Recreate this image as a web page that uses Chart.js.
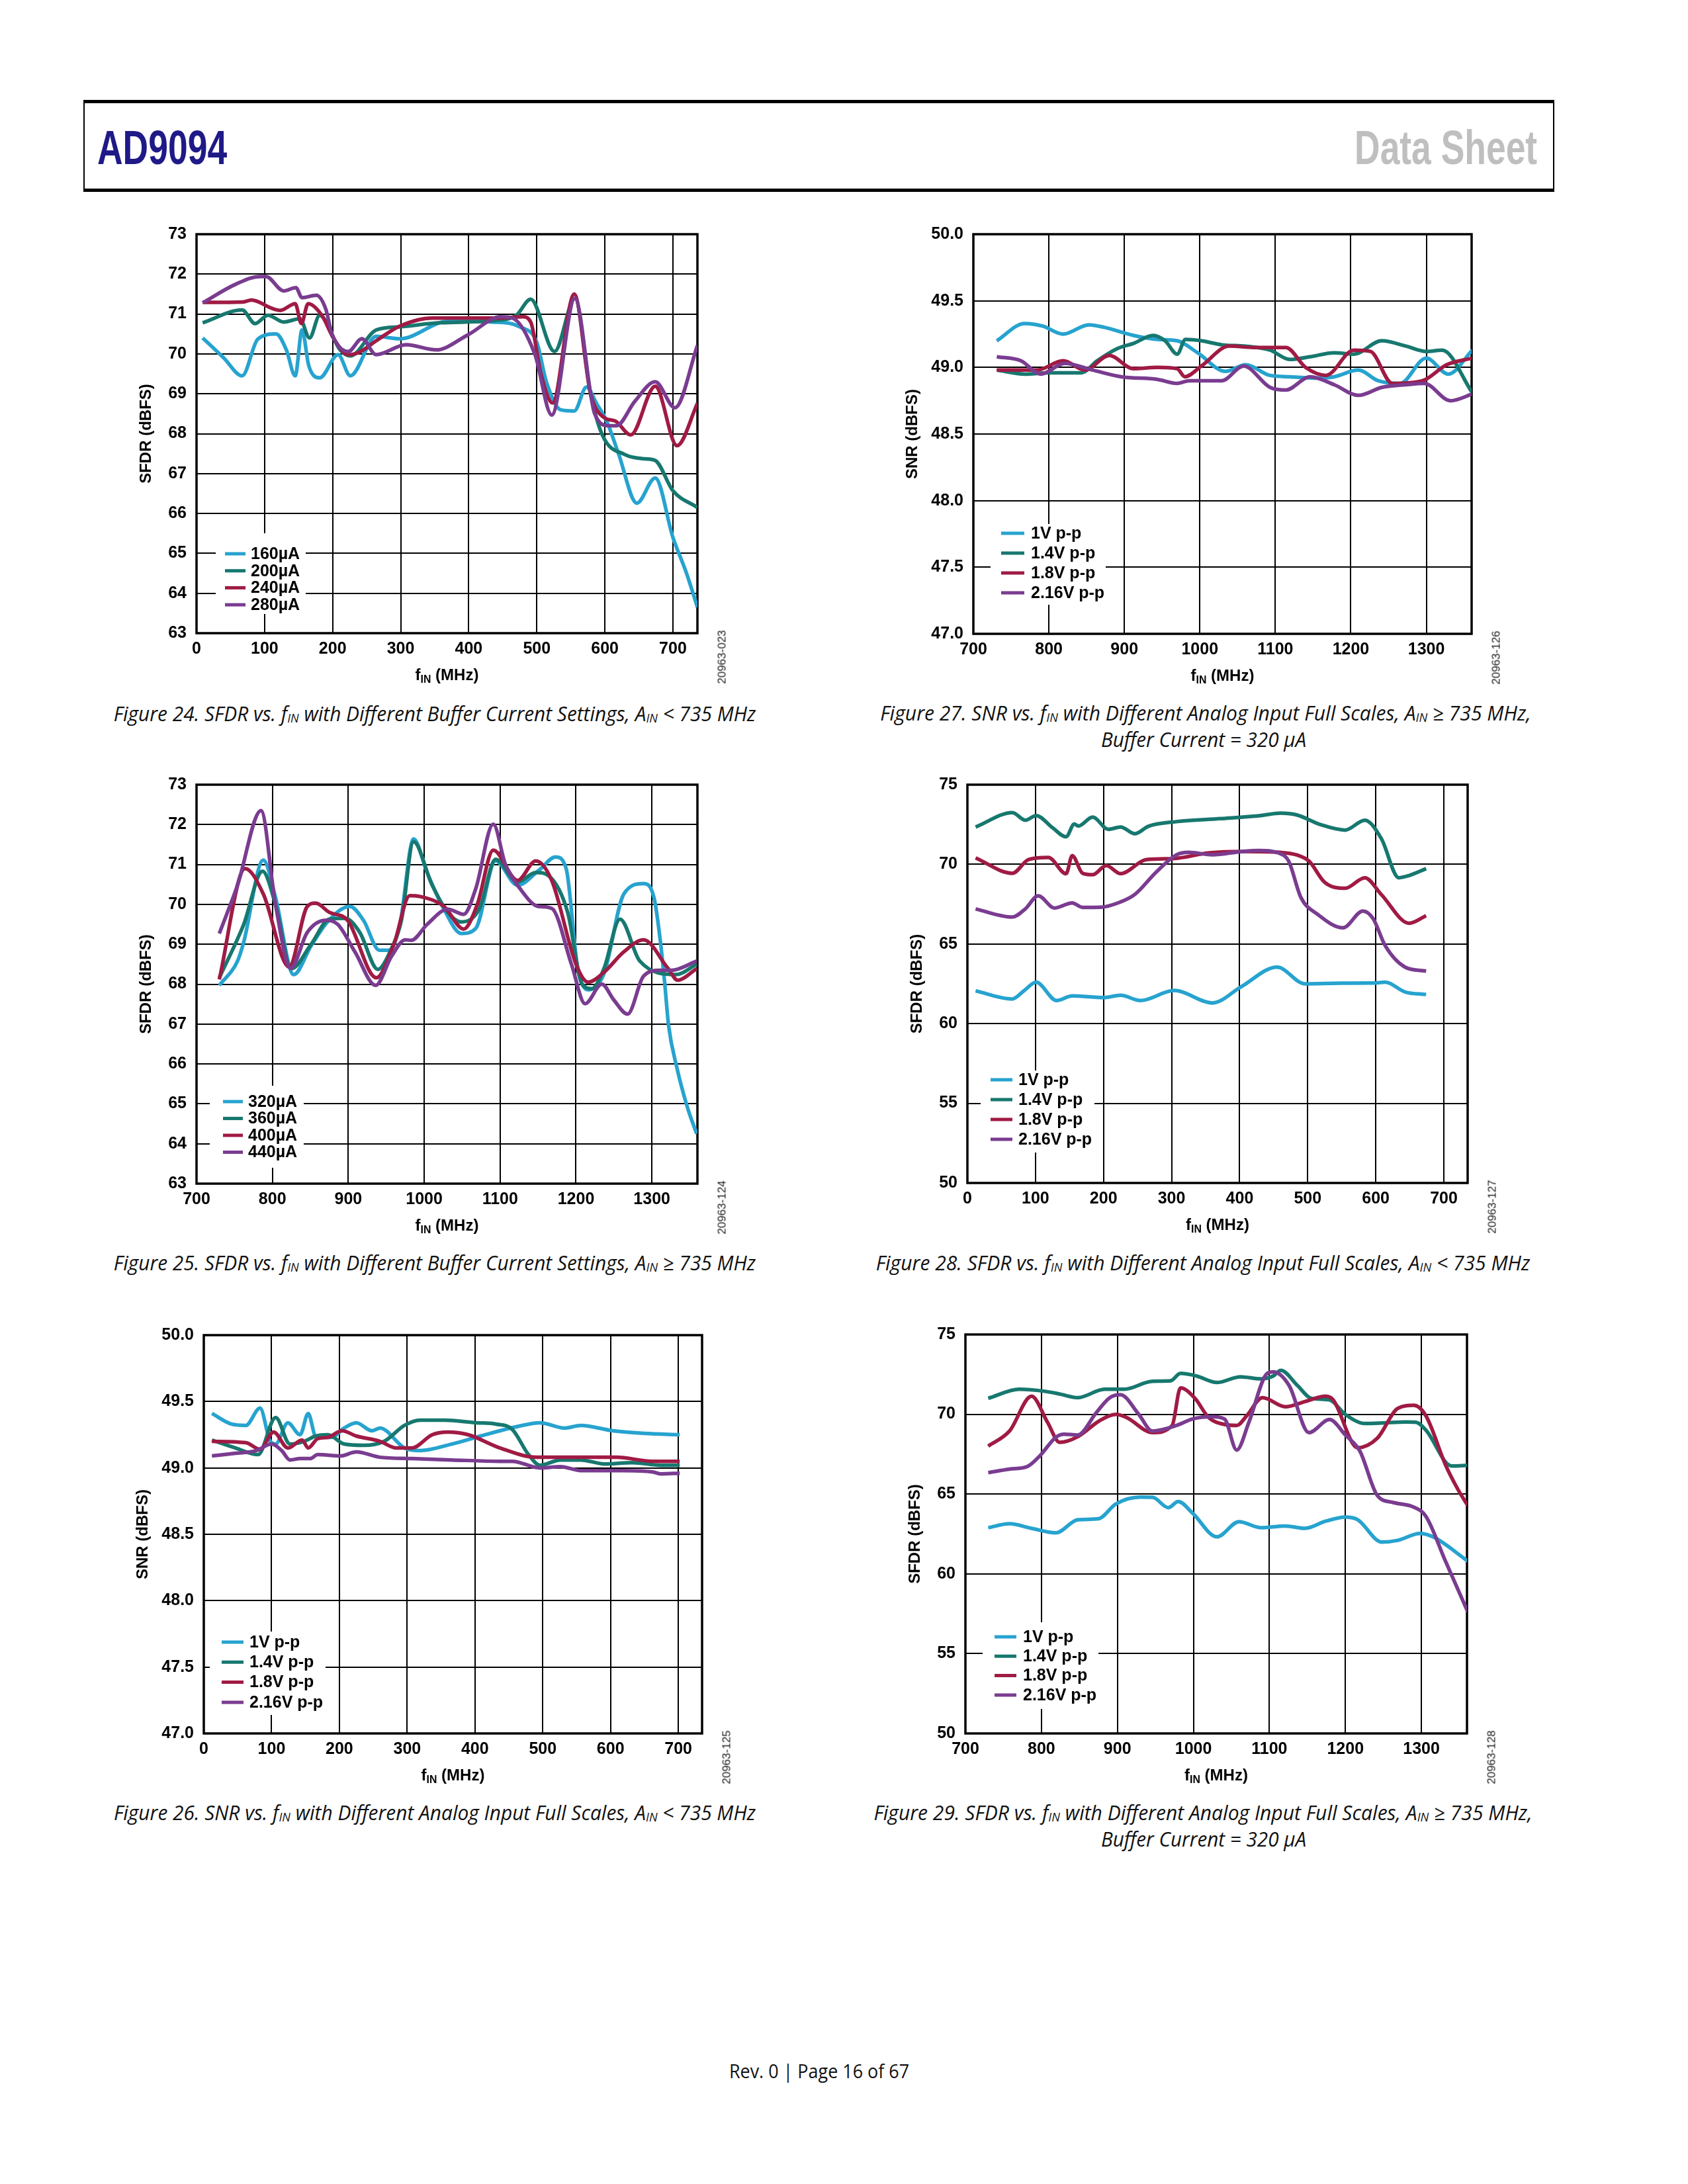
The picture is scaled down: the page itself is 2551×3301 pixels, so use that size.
<!DOCTYPE html>
<html><head><meta charset="utf-8">
<script src="https://cdn.jsdelivr.net/npm/chart.js@4.4.1/dist/chart.umd.min.js"></script>
<style>
html,body{margin:0;padding:0;background:#fff;}
body{width:2551px;height:3301px;position:relative;overflow:hidden;}
.hdr{position:absolute;left:126px;top:151px;width:2219px;height:129px;border-top:5px solid #000;border-bottom:5px solid #000;border-left:2px solid #000;border-right:2px solid #000;}
.htxt{position:absolute;font-family:"Liberation Sans Narrow","Liberation Sans",Arial,sans-serif;font-weight:bold;font-size:72px;line-height:1;white-space:nowrap;}
.cap{position:absolute;font-family:"Open Sans","Liberation Sans",sans-serif;font-style:italic;font-size:31px;line-height:1;white-space:nowrap;color:#111;}
.foot{position:absolute;font-family:"Open Sans","Liberation Sans",sans-serif;font-size:29px;line-height:1;white-space:nowrap;color:#111;}
.xt{position:absolute;font-family:"Liberation Sans",Arial,sans-serif;font-weight:bold;font-size:24px;line-height:1;white-space:nowrap;color:#000;transform:translate(-50%,-50%);}
.fid{position:absolute;font-family:"Liberation Sans",Arial,sans-serif;font-size:17px;line-height:1;white-space:nowrap;color:#222;transform:translate(-50%,-50%) rotate(-90deg);}
sub{font-size:0.66em;vertical-align:-0.28em;line-height:0;}
.cap sub{font-size:0.6em;vertical-align:-0.15em;}
</style></head><body>
<div class="hdr"></div>
<script>
// ================= DATA =================
const seriesColors = ['#27a3cf', '#17786f', '#a01b44', '#7a3c90'];
const bufferLabelsLow = ['160\u00b5A', '200\u00b5A', '240\u00b5A', '280\u00b5A'];
const bufferLabelsHigh = ['320\u00b5A', '360\u00b5A', '400\u00b5A', '440\u00b5A'];
const fullScaleLabels = ['1V p-p', '1.4V p-p', '1.8V p-p', '2.16V p-p'];

const xTicksLow = [0, 100, 200, 300, 400, 500, 600, 700];
const xTickLabelsLow = ['0', '100', '200', '300', '400', '500', '600', '700'];
const xTicksHigh = [700, 800, 900, 1000, 1100, 1200, 1300];
const xTickLabelsHigh = ['700', '800', '900', '1000', '1100', '1200', '1300'];
const yTicksSFDR1 = [63, 64, 65, 66, 67, 68, 69, 70, 71, 72, 73];
const yTickLabelsSFDR1 = ['63', '64', '65', '66', '67', '68', '69', '70', '71', '72', '73'];
const yTicksSNR = [47.0, 47.5, 48.0, 48.5, 49.0, 49.5, 50.0];
const yTickLabelsSNR = ['47.0', '47.5', '48.0', '48.5', '49.0', '49.5', '50.0'];
const yTicksSFDR5 = [50, 55, 60, 65, 70, 75];
const yTickLabelsSFDR5 = ['50', '55', '60', '65', '70', '75'];

// ---- Figure 24: SFDR vs fIN, buffer current, AIN < 735 MHz ----
const f24_160_f = [9, 40, 67, 90, 117, 132, 145, 155, 165, 181, 208, 226, 264, 299, 370, 435, 476, 500, 514, 535, 555, 573, 588, 603, 620, 647, 674, 700, 720, 736];
const f24_160_v = [70.4, 69.9, 69.45, 70.37, 70.5, 70.1, 69.45, 70.6, 69.7, 69.4, 69.98, 69.45, 70.44, 70.38, 70.82, 70.8, 70.67, 70.29, 69.3, 68.6, 68.57, 69.17, 68.75, 68.3, 67.5, 66.26, 66.89, 65.4, 64.5, 63.65];
const f24_200_f = [9, 67, 86, 105, 128, 152, 166, 181, 211, 226, 264, 299, 358, 447, 470, 491, 526, 556, 579, 597, 629, 659, 674, 700, 736];
const f24_200_v = [70.78, 71.1, 70.76, 70.97, 70.8, 70.88, 70.4, 70.97, 70.1, 69.95, 70.6, 70.68, 70.78, 70.85, 70.97, 71.37, 70.06, 71.39, 69.0, 67.94, 67.48, 67.37, 67.33, 66.57, 66.15];
const f24_240_f = [9, 67, 81, 111, 123, 145, 154, 164, 184, 202, 223, 240, 264, 299, 346, 447, 479, 491, 506, 523, 555, 579, 600, 615, 638, 674, 706, 736];
const f24_240_v = [71.29, 71.3, 71.35, 71.14, 71.09, 71.26, 70.76, 71.26, 70.97, 70.37, 69.98, 70.05, 70.33, 70.7, 70.9, 70.9, 70.93, 70.8, 69.5, 68.77, 71.5, 69.0, 68.39, 68.32, 67.97, 69.19, 67.7, 68.76];
const f24_280_f = [9, 58, 93, 102, 128, 146, 155, 176, 190, 199, 223, 243, 264, 308, 352, 399, 447, 464, 497, 522, 556, 585, 606, 617, 644, 674, 703, 736];
const f24_280_v = [71.28, 71.75, 71.94, 71.94, 71.58, 71.66, 71.41, 71.47, 71.12, 70.5, 70.06, 70.38, 69.98, 70.23, 70.1, 70.48, 70.93, 70.9, 70.0, 68.47, 71.39, 68.5, 68.2, 68.2, 68.81, 69.3, 68.65, 70.21];

// ---- Figure 27: SNR vs fIN, full scales, AIN >= 735 MHz ----
const f27_10_f = [731, 768, 792, 819, 853, 874, 912, 944, 970, 997, 1034, 1061, 1093, 1119, 1151, 1178, 1210, 1236, 1265, 1300, 1329, 1361];
const f27_10_v = [49.2, 49.33, 49.31, 49.25, 49.32, 49.3, 49.24, 49.21, 49.2, 49.11, 48.97, 49.02, 48.94, 48.93, 48.92, 48.93, 48.98, 48.9, 48.88, 49.07, 48.95, 49.13];
const f27_14_f = [731, 768, 800, 821, 843, 864, 890, 912, 938, 954, 970, 981, 1002, 1029, 1061, 1093, 1119, 1146, 1178, 1204, 1241, 1273, 1300, 1321, 1361];
const f27_14_v = [48.98, 48.95, 48.96, 48.96, 48.96, 49.05, 49.14, 49.18, 49.24, 49.2, 49.1, 49.21, 49.2, 49.17, 49.16, 49.13, 49.06, 49.08, 49.11, 49.1, 49.2, 49.16, 49.12, 49.13, 48.81];
const f27_18_f = [731, 784, 819, 848, 880, 912, 944, 970, 980, 1002, 1039, 1071, 1114, 1140, 1167, 1204, 1226, 1255, 1295, 1327, 1361];
const f27_18_v = [48.98, 48.98, 49.05, 48.98, 49.09, 48.99, 49.0, 48.99, 48.93, 49.01, 49.16, 49.15, 49.15, 49.0, 48.94, 49.13, 49.12, 48.88, 48.9, 49.02, 49.07];
const f27_216_f = [731, 763, 789, 821, 858, 896, 944, 970, 986, 1029, 1058, 1093, 1114, 1146, 1178, 1210, 1241, 1273, 1297, 1332, 1361];
const f27_216_v = [49.08, 49.05, 48.95, 49.03, 48.98, 48.93, 48.91, 48.88, 48.9, 48.9, 49.01, 48.85, 48.83, 48.93, 48.87, 48.79, 48.85, 48.87, 48.88, 48.75, 48.8];

// ---- Figure 25: SFDR vs fIN, buffer current, AIN >= 735 MHz ----
const f25_320_f = [730, 754, 762, 788, 804, 828, 851, 873, 902, 920, 941, 954, 968, 986, 1004, 1026, 1049, 1068, 1094, 1123, 1152, 1173, 1187, 1202, 1216, 1237, 1263, 1289, 1303, 1311, 1317, 1322, 1333, 1347, 1359];
const f25_320_v = [67.97, 68.58, 69.04, 71.11, 70.18, 68.24, 68.96, 69.57, 69.95, 69.6, 68.85, 68.85, 69.5, 71.64, 70.79, 69.88, 69.27, 69.4, 71.09, 70.48, 70.87, 71.19, 70.9, 68.43, 67.86, 68.27, 70.26, 70.52, 70.15, 69.1, 68.0, 66.96, 65.9, 64.9, 64.25];
const f25_360_f = [730, 762, 787, 804, 825, 851, 875, 896, 915, 939, 957, 970, 986, 1010, 1031, 1049, 1073, 1094, 1123, 1147, 1165, 1189, 1208, 1221, 1237, 1258, 1284, 1332, 1359];
const f25_360_v = [68.16, 69.49, 70.83, 70.0, 68.39, 69.0, 69.63, 69.65, 69.3, 68.37, 68.9, 69.6, 71.57, 70.5, 69.8, 69.56, 69.9, 71.13, 70.56, 70.8, 70.7, 69.8, 68.0, 67.89, 68.4, 69.63, 68.58, 68.24, 68.5];
const f25_400_f = [730, 764, 788, 822, 846, 857, 875, 899, 937, 960, 981, 994, 1026, 1052, 1070, 1091, 1123, 1147, 1168, 1200, 1216, 1237, 1263, 1289, 1321, 1334, 1359];
const f25_400_v = [68.12, 70.9, 70.26, 68.43, 69.95, 70.03, 69.8, 69.6, 68.16, 69.0, 70.22, 70.2, 69.95, 69.38, 70.0, 71.36, 70.6, 71.09, 70.6, 68.5, 68.05, 68.3, 68.81, 69.11, 68.4, 68.1, 68.39];
const f25_440_f = [730, 754, 785, 804, 824, 846, 870, 886, 909, 936, 957, 975, 983, 1004, 1031, 1052, 1068, 1091, 1107, 1126, 1150, 1168, 1194, 1212, 1234, 1250, 1268, 1289, 1311, 1326, 1359];
const f25_440_v = [69.27, 70.48, 72.35, 70.0, 68.4, 69.3, 69.6, 69.5, 68.8, 67.97, 68.7, 69.11, 69.1, 69.5, 69.88, 69.75, 70.4, 72.01, 71.0, 70.4, 69.95, 69.9, 68.5, 67.51, 68.0, 67.6, 67.25, 68.2, 68.35, 68.35, 68.58];

// ---- Figure 28: SFDR vs fIN, full scales, AIN < 735 MHz ----
const f28_10_f = [12, 66, 84, 101, 131, 154, 201, 225, 254, 304, 360, 402, 455, 496, 549, 596, 614, 643, 674];
const f28_10_v = [62.06, 61.55, 62.1, 62.6, 61.45, 61.74, 61.64, 61.78, 61.45, 62.08, 61.3, 62.31, 63.55, 62.5, 62.54, 62.55, 62.6, 61.99, 61.83];
const f28_14_f = [12, 66, 85, 101, 125, 145, 157, 163, 184, 207, 225, 246, 266, 307, 372, 431, 460, 484, 519, 555, 584, 608, 634, 649, 674];
const f28_14_v = [72.34, 73.25, 72.77, 73.06, 72.3, 71.73, 72.53, 72.4, 72.96, 72.2, 72.34, 71.92, 72.39, 72.68, 72.87, 73.06, 73.21, 73.1, 72.49, 72.15, 72.77, 71.63, 69.16, 69.3, 69.73];
const f28_18_f = [12, 66, 90, 119, 145, 154, 169, 184, 204, 225, 263, 302, 355, 402, 460, 484, 502, 525, 555, 584, 608, 649, 674];
const f28_18_v = [70.4, 69.44, 70.3, 70.43, 69.41, 70.55, 69.45, 69.35, 69.92, 69.41, 70.3, 70.36, 70.72, 70.81, 70.75, 70.59, 70.2, 68.87, 68.5, 69.16, 68.11, 66.3, 66.78];
const f28_216_f = [12, 66, 85, 104, 128, 154, 169, 196, 225, 246, 278, 307, 325, 360, 402, 428, 458, 472, 490, 514, 552, 581, 596, 614, 643, 674];
const f28_216_v = [67.2, 66.69, 67.2, 68.02, 67.26, 67.58, 67.3, 67.31, 67.64, 68.11, 69.54, 70.59, 70.75, 70.6, 70.8, 70.87, 70.7, 70.2, 67.92, 66.88, 66.02, 67.07, 66.6, 64.88, 63.55, 63.3];

// ---- Figure 26: SNR vs fIN, full scales, AIN < 735 MHz ----
const f26_10_f = [12, 41, 62, 83, 98, 106, 124, 142, 154, 165, 189, 207, 225, 248, 260, 296, 319, 366, 408, 461, 496, 532, 556, 603, 650, 702];
const f26_10_v = [49.41, 49.33, 49.32, 49.45, 49.2, 49.18, 49.34, 49.25, 49.41, 49.24, 49.23, 49.3, 49.34, 49.28, 49.3, 49.15, 49.13, 49.18, 49.24, 49.31, 49.34, 49.3, 49.32, 49.28, 49.26, 49.25];
const f26_14_f = [12, 47, 80, 106, 127, 148, 165, 183, 207, 236, 266, 296, 319, 355, 402, 431, 455, 479, 496, 526, 556, 591, 632, 674, 702];
const f26_14_v = [49.21, 49.15, 49.1, 49.38, 49.18, 49.2, 49.24, 49.25, 49.18, 49.17, 49.2, 49.32, 49.36, 49.36, 49.34, 49.33, 49.29, 49.1, 49.02, 49.06, 49.06, 49.03, 49.04, 49.02, 49.02];
const f26_18_f = [12, 62, 83, 103, 124, 145, 154, 168, 183, 204, 225, 260, 284, 307, 337, 360, 390, 437, 491, 556, 609, 662, 702];
const f26_18_v = [49.2, 49.19, 49.14, 49.27, 49.15, 49.21, 49.15, 49.22, 49.23, 49.28, 49.24, 49.2, 49.15, 49.15, 49.25, 49.27, 49.25, 49.15, 49.08, 49.08, 49.08, 49.05, 49.05];
const f26_216_f = [12, 47, 77, 100, 115, 127, 142, 157, 168, 201, 225, 260, 307, 366, 437, 455, 496, 526, 556, 615, 662, 674, 702];
const f26_216_v = [49.09, 49.11, 49.13, 49.18, 49.13, 49.06, 49.07, 49.07, 49.1, 49.09, 49.12, 49.08, 49.07, 49.06, 49.05, 49.05, 49.0, 49.01, 48.98, 48.98, 48.97, 48.955, 48.96];

// ---- Figure 29: SFDR vs fIN, full scales, AIN >= 735 MHz ----
const f29_10_f = [730, 758, 787, 819, 848, 875, 898, 930, 946, 967, 980, 999, 1031, 1060, 1089, 1121, 1147, 1174, 1200, 1216, 1248, 1269, 1298, 1316, 1361];
const f29_10_v = [62.89, 63.14, 62.85, 62.57, 63.39, 63.45, 64.38, 64.81, 64.8, 64.15, 64.53, 63.8, 62.32, 63.27, 62.89, 63.0, 62.85, 63.3, 63.56, 63.4, 61.99, 62.1, 62.53, 62.3, 60.8];
const f29_14_f = [730, 771, 803, 824, 848, 883, 909, 946, 970, 983, 1004, 1031, 1062, 1089, 1105, 1115, 1137, 1155, 1179, 1200, 1226, 1248, 1279, 1293, 1306, 1340, 1361];
const f29_14_v = [71.0, 71.57, 71.45, 71.27, 71.04, 71.57, 71.57, 72.07, 72.1, 72.56, 72.4, 71.99, 72.35, 72.22, 72.4, 72.75, 71.8, 71.0, 70.9, 69.99, 69.42, 69.45, 69.52, 69.5, 69.0, 66.76, 66.8];
const f29_18_f = [730, 758, 787, 808, 824, 848, 877, 898, 912, 946, 972, 983, 1002, 1020, 1041, 1057, 1070, 1091, 1121, 1147, 1174, 1184, 1216, 1242, 1269, 1290, 1306, 1332, 1348, 1361];
const f29_18_v = [68.0, 68.95, 71.13, 69.5, 68.24, 68.6, 69.61, 69.99, 69.8, 68.85, 69.3, 71.65, 71.0, 69.8, 69.36, 69.3, 69.9, 71.04, 70.47, 70.8, 71.13, 70.9, 67.9, 68.5, 70.37, 70.56, 69.9, 66.8, 65.3, 64.28];
const f29_216_f = [730, 758, 782, 798, 819, 830, 848, 872, 890, 904, 928, 946, 978, 999, 1025, 1041, 1057, 1073, 1097, 1105, 1126, 1152, 1179, 1200, 1219, 1242, 1263, 1290, 1306, 1332, 1361];
const f29_216_v = [66.34, 66.56, 66.74, 67.4, 68.56, 68.75, 68.7, 70.09, 71.04, 71.23, 70.0, 68.95, 69.3, 69.71, 69.85, 69.7, 67.76, 69.5, 72.56, 72.66, 71.8, 68.85, 69.67, 68.7, 67.7, 64.91, 64.47, 64.18, 63.6, 60.76, 57.62];

// ================= DRAWING =================
const FONT = '"Liberation Sans", Arial, sans-serif';

const framePlugin = {
  id: 'frame',
  beforeDatasetsDraw(chart) {
    const {ctx, chartArea: a} = chart;
    ctx.save();
    ctx.strokeStyle = '#000';
    ctx.lineWidth = 3.5;
    ctx.strokeRect(a.left, a.top, a.right - a.left, a.bottom - a.top);
    ctx.restore();
  }
};

const boxLegendPlugin = {
  id: 'boxLegend',
  afterDatasetsDraw(chart, args, o) {
    const {ctx, chartArea: a} = chart;
    ctx.save();
    ctx.fillStyle = '#fff';
    ctx.fillRect(a.left + o.bx0, a.bottom + o.by0, o.bx1 - o.bx0, o.by1 - o.by0);
    chart.data.datasets.forEach((d, i) => {
      const y = a.bottom + o.row0 + i * o.dy;
      ctx.strokeStyle = d.borderColor;
      ctx.lineWidth = 5;
      ctx.lineCap = 'butt';
      ctx.beginPath();
      ctx.moveTo(a.left + o.lx0, y);
      ctx.lineTo(a.left + o.lx1, y);
      ctx.stroke();
      ctx.fillStyle = '#000';
      ctx.font = 'bold ' + o.size + 'px ' + FONT;
      ctx.textBaseline = 'middle';
      ctx.textAlign = 'left';
      ctx.fillText(d.label, a.left + o.tx, y + 1);
    });
    ctx.restore();
  }
};

function el(cls, html, css) {
  const d = document.createElement('div');
  d.className = cls;
  d.innerHTML = html;
  if (css) d.style.cssText += css;
  document.body.appendChild(d);
  return d;
}

function fitCenter(d, cx, cy, w) {
  d.style.left = cx + 'px';
  d.style.top = cy + 'px';
  const s = w / d.offsetWidth;
  d.style.transform = 'translate(-50%,-50%) scaleX(' + s.toFixed(4) + ')';
}

function makeChart(spec) {
  const {L, T, R, B} = spec.box;
  const padL = 150, padT = 30, padR = 40, padB = 50;
  const wrap = document.createElement('div');
  wrap.style.cssText = 'position:absolute;left:' + (L - padL) + 'px;top:' + (T - padT) + 'px;width:' + (R - L + padL + padR) + 'px;height:' + (B - T + padT + padB) + 'px;';
  const cv = document.createElement('canvas');
  wrap.appendChild(cv);
  document.body.appendChild(wrap);
  const n = spec.series.length;
  new Chart(cv, {
    type: 'line',
    data: {
      datasets: spec.series.map((s, i) => ({
        label: s.label,
        data: s.f.map((x, j) => ({x: x, y: s.v[j]})),
        borderColor: seriesColors[i],
        backgroundColor: seriesColors[i],
        borderWidth: 5.5,
        pointRadius: 0,
        fill: false,
        cubicInterpolationMode: 'monotone',
        order: n - i
      }))
    },
    options: {
      responsive: true, maintainAspectRatio: false, animation: false, devicePixelRatio: 1,
      layout: {padding: {left: 0, top: padT, right: padR, bottom: 0}},
      plugins: {legend: {display: false}, tooltip: {enabled: false}, boxLegend: spec.legend},
      scales: {
        x: {
          type: 'linear', min: spec.xMin, max: spec.xMax,
          afterBuildTicks: ax => { ax.ticks = spec.xTicks.map(v => ({value: v})); },
          afterFit: ax => { ax.height = padB; },
          grid: {color: '#000', lineWidth: 2, drawTicks: false},
          border: {display: false},
          ticks: {padding: 9, autoSkip: false, maxRotation: 0, color: '#000',
            font: {family: FONT, size: 25, weight: 'bold'},
            callback: (v, i) => spec.xLabels[i]}
        },
        y: {
          type: 'linear', min: spec.yMin, max: spec.yMax,
          afterBuildTicks: ax => { ax.ticks = spec.yTicks.map(v => ({value: v})); },
          afterFit: ax => { ax.width = padL; },
          grid: {color: '#000', lineWidth: 2, drawTicks: false},
          border: {display: false},
          ticks: {padding: 15, autoSkip: false, color: '#000',
            font: {family: FONT, size: 25, weight: 'bold'},
            callback: (v, i) => spec.yLabels[i]},
          title: {display: true, text: spec.yTitle, color: '#000',
            font: {family: FONT, size: 24, weight: 'bold'},
            padding: {top: padL - spec.yTitleOff - 14.4, bottom: 0}}
        }
      }
    },
    plugins: [framePlugin, boxLegendPlugin]
  });
  const xt = el('xt', 'f<sub>IN</sub> (MHz)');
  xt.style.left = ((L + R) / 2) + 'px';
  xt.style.top = (B + 63) + 'px';
  const fid = el('fid', spec.figId);
  fid.style.left = (R + 37) + 'px';
  fid.style.top = (B + 36) + 'px';
}

function mk(labels, fs, vs) {
  return labels.map((lb, i) => ({label: lb, f: fs[i], v: vs[i]}));
}

makeChart({
  box: {L: 297, T: 354, R: 1054, B: 957},
  xMin: 0, xMax: 736, xTicks: xTicksLow, xLabels: xTickLabelsLow,
  yMin: 63, yMax: 73, yTicks: yTicksSFDR1, yLabels: yTickLabelsSFDR1,
  yTitle: 'SFDR (dBFS)', yTitleOff: 76, figId: '20963-023',
  series: mk(bufferLabelsLow, [f24_160_f, f24_200_f, f24_240_f, f24_280_f], [f24_160_v, f24_200_v, f24_240_v, f24_280_v]),
  legend: {bx0: 29, bx1: 165, by0: -151, by1: -29, lx0: 43, lx1: 74, tx: 82, row0: -120, dy: 25.7, size: 25}
});
makeChart({
  box: {L: 1471, T: 354, R: 2224, B: 958},
  xMin: 700, xMax: 1360, xTicks: xTicksHigh, xLabels: xTickLabelsHigh,
  yMin: 47, yMax: 50, yTicks: yTicksSNR, yLabels: yTickLabelsSNR,
  yTitle: 'SNR (dBFS)', yTitleOff: 92, figId: '20963-126',
  series: mk(fullScaleLabels, [f27_10_f, f27_14_f, f27_18_f, f27_216_f], [f27_10_v, f27_14_v, f27_18_v, f27_216_v]),
  legend: {bx0: 26, bx1: 200, by0: -166, by1: -44, lx0: 42, lx1: 77, tx: 87, row0: -152, dy: 30, size: 25}
});
makeChart({
  box: {L: 297, T: 1186, R: 1054, B: 1789},
  xMin: 700, xMax: 1360, xTicks: xTicksHigh, xLabels: xTickLabelsHigh,
  yMin: 63, yMax: 73, yTicks: yTicksSFDR1, yLabels: yTickLabelsSFDR1,
  yTitle: 'SFDR (dBFS)', yTitleOff: 76, figId: '20963-124',
  series: mk(bufferLabelsHigh, [f25_320_f, f25_360_f, f25_400_f, f25_440_f], [f25_320_v, f25_360_v, f25_400_v, f25_440_v]),
  legend: {bx0: 20, bx1: 162, by0: -148, by1: -24, lx0: 40, lx1: 70, tx: 78, row0: -124, dy: 25.5, size: 25}
});
makeChart({
  box: {L: 1462, T: 1186, R: 2218, B: 1788},
  xMin: 0, xMax: 735, xTicks: xTicksLow, xLabels: xTickLabelsLow,
  yMin: 50, yMax: 75, yTicks: yTicksSFDR5, yLabels: yTickLabelsSFDR5,
  yTitle: 'SFDR (dBFS)', yTitleOff: 76, figId: '20963-127',
  series: mk(fullScaleLabels, [f28_10_f, f28_14_f, f28_18_f, f28_216_f], [f28_10_v, f28_14_v, f28_18_v, f28_216_v]),
  legend: {bx0: 20, bx1: 192, by0: -170, by1: -46, lx0: 35, lx1: 68, tx: 77, row0: -156, dy: 30, size: 25}
});
makeChart({
  box: {L: 308, T: 2018, R: 1061, B: 2620},
  xMin: 0, xMax: 735, xTicks: xTicksLow, xLabels: xTickLabelsLow,
  yMin: 47, yMax: 50, yTicks: yTicksSNR, yLabels: yTickLabelsSNR,
  yTitle: 'SNR (dBFS)', yTitleOff: 92, figId: '20963-125',
  series: mk(fullScaleLabels, [f26_10_f, f26_14_f, f26_18_f, f26_216_f], [f26_10_v, f26_14_v, f26_18_v, f26_216_v]),
  legend: {bx0: 9, bx1: 184, by0: -154, by1: -28, lx0: 27, lx1: 60, tx: 69, row0: -138, dy: 30.3, size: 25}
});
makeChart({
  box: {L: 1459, T: 2017, R: 2217, B: 2620},
  xMin: 700, xMax: 1360, xTicks: xTicksHigh, xLabels: xTickLabelsHigh,
  yMin: 50, yMax: 75, yTicks: yTicksSFDR5, yLabels: yTickLabelsSFDR5,
  yTitle: 'SFDR (dBFS)', yTitleOff: 76, figId: '20963-128',
  series: mk(fullScaleLabels, [f29_10_f, f29_14_f, f29_18_f, f29_216_f], [f29_10_v, f29_14_v, f29_18_v, f29_216_v]),
  legend: {bx0: 26, bx1: 201, by0: -168, by1: -37, lx0: 44, lx1: 77, tx: 87, row0: -146, dy: 29.3, size: 25}
});

// ================= TEXT =================
const h1 = el('htxt', 'AD9094', 'color:#1f1a87;transform-origin:0 0;');
h1.style.left = '147px'; h1.style.top = '187px';
h1.style.transform = 'scaleX(' + (196 / h1.offsetWidth).toFixed(4) + ')';
const h2 = el('htxt', 'Data Sheet', 'color:#bfbfbf;transform-origin:100% 0;');
h2.style.right = '228px'; h2.style.top = '187px';
h2.style.transform = 'scaleX(' + (276 / h2.offsetWidth).toFixed(4) + ')';

fitCenter(el('cap', 'Figure 24. SFDR vs. f<sub>IN</sub> with Different Buffer Current Settings, A<sub>IN</sub> &lt; 735 MHz'), 657, 1078, 970);
fitCenter(el('cap', 'Figure 27. SNR vs. f<sub>IN</sub> with Different Analog Input Full Scales, A<sub>IN</sub> \u2265 735 MHz,'), 1822, 1077, 984);
fitCenter(el('cap', 'Buffer Current = 320 \u00b5A'), 1819, 1117, 310);
fitCenter(el('cap', 'Figure 25. SFDR vs. f<sub>IN</sub> with Different Buffer Current Settings, A<sub>IN</sub> \u2265 735 MHz'), 657, 1908, 970);
fitCenter(el('cap', 'Figure 28. SFDR vs. f<sub>IN</sub> with Different Analog Input Full Scales, A<sub>IN</sub> &lt; 735 MHz'), 1818, 1908, 989);
fitCenter(el('cap', 'Figure 26. SNR vs. f<sub>IN</sub> with Different Analog Input Full Scales, A<sub>IN</sub> &lt; 735 MHz'), 657, 2739, 970);
fitCenter(el('cap', 'Figure 29. SFDR vs. f<sub>IN</sub> with Different Analog Input Full Scales, A<sub>IN</sub> \u2265 735 MHz,'), 1818, 2739, 995);
fitCenter(el('cap', 'Buffer Current = 320 \u00b5A'), 1819, 2779, 310);
fitCenter(el('foot', 'Rev. 0 | Page 16 of 67'), 1238, 3129, 272);
</script>
</body></html>
